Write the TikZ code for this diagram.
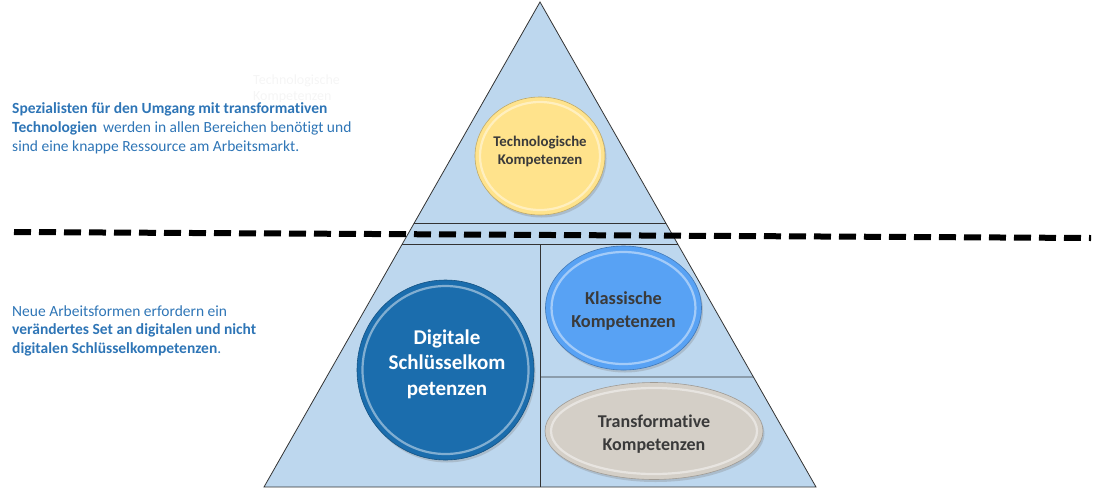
\documentclass[tikz,border=0pt]{standalone}
\usepackage{fontspec}
\setmainfont{Carlito}[Ligatures={NoCommon}]
\usetikzlibrary{shapes.geometric,shadows,calc}
\definecolor{tri}{HTML}{BDD7EE}
\definecolor{txtblue}{HTML}{2E75B6}
\definecolor{ylw}{HTML}{FFE38C}
\definecolor{dkblue}{HTML}{1B6DAD}
\definecolor{mdblue}{HTML}{58A2F4}
\definecolor{taupe}{HTML}{D4CFC7}
\definecolor{lbl}{HTML}{3A3A3A}
\begin{document}
\begin{tikzpicture}[x=1pt,y=-1pt,
  bub/.style={ellipse, inner sep=0pt, draw=#1!75!black, line width=0.6pt, fill=#1,
    drop shadow={opacity=0.3, shadow xshift=1.5pt, shadow yshift=-2.5pt}},
  bublbl/.style={align=center, inner sep=0pt, font=\bfseries, text=lbl},
  ring/.style={draw=white, opacity=0.45, line width=2.2pt},
  edge/.style={draw=black!80, line width=0.8pt},
  sep/.style={draw=black!80, line width=0.8pt},
  divider/.style={line width=6pt, dash pattern=on 17pt off 8pt, black},
  lt/.style={anchor=base west, inner sep=0pt, text=txtblue, font=\fontsize{15.5}{19}\selectfont},
  ghost/.style={anchor=base west, inner sep=0pt, text=black!4, font=\fontsize{14}{17}\selectfont}]
\useasboundingbox (0,0) rectangle (1095,488);

% pyramid
\coordinate (apex) at (540,2);
\coordinate (bl) at (264,487);
\coordinate (br) at (816,487);
\draw[edge, fill=tri] (apex) -- (br) -- (bl) -- cycle;
\coordinate (l1a) at ($(apex)!.4557!(bl)$);
\coordinate (l1b) at ($(apex)!.4557!(br)$);
\coordinate (l2a) at ($(apex)!.499!(bl)$);
\coordinate (l2b) at ($(apex)!.499!(br)$);
\coordinate (l3b) at ($(apex)!.7732!(br)$);
\coordinate (vtop) at (540,244);
\coordinate (vbot) at ($(bl)!.5!(br)$);
\coordinate (l3a) at (540,377);
\draw[sep] (l1a) -- (l1b);
\draw[sep] (l2a) -- (l2b);
\draw[sep] (vtop) -- (vbot);
\draw[sep] (l3a) -- (l3b);

% bubbles
\node[bub=ylw, minimum width=130pt, minimum height=118pt] (tech) at (540,156) {};
\draw[ring] (tech.center) ellipse [x radius=60, y radius=54];
\node[bublbl, font=\bfseries\fontsize{14.8}{18}\selectfont] (techlbl) at (540,151) {Technologische\\Kompetenzen};

\node[bub=dkblue, minimum width=177pt, minimum height=180pt] (dig) at (445.5,370) {};
\draw[ring] (dig.center) ellipse [x radius=83, y radius=84];
\node[bublbl, text=white, font=\bfseries\fontsize{21}{25.5}\selectfont] (diglbl) at (447,364) {Digitale\\Schlüsselkom\\petenzen};

\node[bub=mdblue, minimum width=156pt, minimum height=124pt] (klass) at (623.5,308) {};
\draw[ring] (klass.center) ellipse [x radius=72, y radius=56];
\node[bublbl, font=\bfseries\fontsize{18.3}{23}\selectfont] (klasslbl) at (623.5,311) {Klassische\\Kompetenzen};

\node[bub=taupe, minimum width=218pt, minimum height=97pt] (trans) at (654,431) {};
\draw[ring] (trans.center) ellipse [x radius=103, y radius=43];
\node[bublbl, font=\bfseries\fontsize{18}{22.5}\selectfont] (translbl) at (654,434) {Transformative\\Kompetenzen};

% dashed divider
\coordinate (dl) at (14,232);
\coordinate (dr) at (1091,238);
\draw[divider] (dl) -- (dr);

% faint ghost label
\node[ghost] (g1) at (253,84) {Technologische};
\node[ghost] (g2) at (253,100) {Kompetenzen};

% left texts
\node[lt] (t1) at (12,113) {\bfseries Spezialisten für den Umgang mit transformativen};
\node[lt] (t2) at (12,132) {\textbf{Technologien}\hspace{6pt}werden in allen Bereichen benötigt und};
\node[lt] (t3) at (12,151) {sind eine knappe Ressource am Arbeitsmarkt.};
\node[lt] (b1) at (12,316) {Neue Arbeitsformen erfordern ein};
\node[lt] (b2) at (12,334.5) {\bfseries verändertes Set an digitalen und nicht};
\node[lt] (b3) at (12,353) {\textbf{digitalen Schlüsselkompetenzen}.};
\end{tikzpicture}
\end{document}
